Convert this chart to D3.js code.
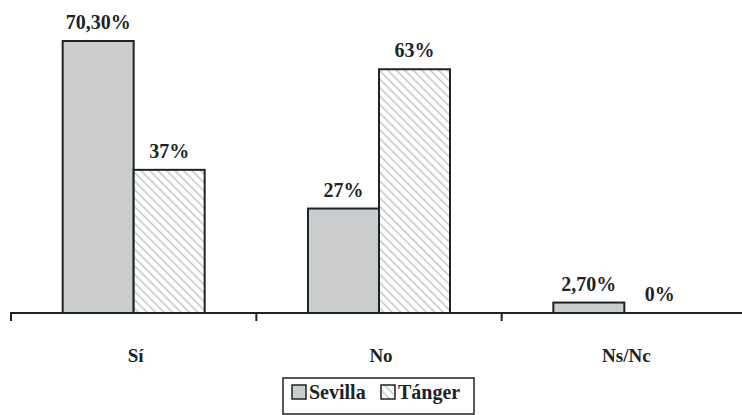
<!DOCTYPE html>
<html>
<head>
<meta charset="utf-8">
<script src="https://cdn.jsdelivr.net/npm/d3@7"></script>
<style>
body { margin: 0; background: #fff; }
svg text { font-family: "Liberation Serif"; font-weight: bold; }
</style>
</head>
<body>
<script>
const categories = ["Sí", "No", "Ns/Nc"];
const series = ["Sevilla", "Tánger"];
const sevilla = [70.3, 27, 2.7];
const tanger = [37, 63, 0];
const sevillaLabels = ["70,30%", "27%", "2,70%"];
const tangerLabels = ["37%", "63%", "0%"];

const W = 742, H = 415;
const ink = "#1b2426";

const svg = d3.select("body").append("svg")
    .attr("width", W)
    .attr("height", H);

const defs = svg.append("defs");
const pat = defs.append("pattern")
    .attr("id", "hatch")
    .attr("patternUnits", "userSpaceOnUse")
    .attr("width", 6)
    .attr("height", 6)
    .attr("patternTransform", "rotate(-45)");
pat.append("rect").attr("width", 6).attr("height", 6).attr("fill", "#fff");
pat.append("line")
    .attr("x1", 0).attr("y1", 0).attr("x2", 0).attr("y2", 6)
    .attr("stroke", "#c4c6c7").attr("stroke-width", 3);

const x0 = d3.scaleBand().domain(categories).range([11, 747]);
const x1 = d3.scaleBand().domain(series).range([0, 142]);
const y = d3.scaleLinear().domain([0, 70.3]).range([313, 41]);

const rows = categories.map((c, i) => ({
    cat: c,
    vals: [
        { s: "Sevilla", v: sevilla[i], label: sevillaLabels[i] },
        { s: "Tánger", v: tanger[i], label: tangerLabels[i] }
    ]
}));

const groups = svg.selectAll("g.grp")
    .data(rows)
    .enter().append("g")
    .attr("class", "grp")
    .attr("transform", d => `translate(${x0(d.cat) + (x0.bandwidth() - 142) / 2},0)`);

groups.selectAll("rect")
    .data(d => d.vals.filter(v => v.v > 0))
    .enter().append("rect")
    .attr("x", d => x1(d.s))
    .attr("y", d => y(d.v))
    .attr("width", x1.bandwidth())
    .attr("height", d => y(0) - y(d.v))
    .attr("fill", d => d.s == "Sevilla" ? "#cbcccd" : "url(#hatch)")
    .attr("stroke", ink)
    .attr("stroke-width", 2);

groups.selectAll("text")
    .data(d => d.vals)
    .enter().append("text")
    .attr("x", d => x1(d.s) + x1.bandwidth() / 2)
    .attr("y", d => y(d.v) - 12)
    .attr("text-anchor", "middle")
    .attr("font-size", 20)
    .attr("fill", ink)
    .text(d => d.label);

// axis
const axis = svg.append("g").attr("transform", "translate(0,313)");
axis.append("line")
    .attr("x1", 10).attr("x2", W)
    .attr("stroke", ink).attr("stroke-width", 2);
axis.selectAll("line.tick")
    .data(categories)
    .enter().append("line")
    .attr("class", "tick")
    .attr("x1", d => x0(d)).attr("x2", d => x0(d))
    .attr("y1", 0).attr("y2", 8)
    .attr("stroke", ink).attr("stroke-width", 2);
axis.selectAll("text")
    .data(categories)
    .enter().append("text")
    .attr("x", d => x0(d) + x0.bandwidth() / 2 + 2)
    .attr("y", 49)
    .attr("text-anchor", "middle")
    .attr("font-size", 19)
    .attr("fill", ink)
    .text(d => d);

// legend
const leg = svg.append("g").attr("transform", "translate(283,378)");
leg.append("rect")
    .attr("width", 191).attr("height", 36)
    .attr("fill", "#fff").attr("stroke", ink).attr("stroke-width", 1.5);
const items = [{ s: "Sevilla", x: 9, fill: "#cbcccd" }, { s: "Tánger", x: 98, fill: "url(#hatch)" }];
items.forEach(it => {
    leg.append("rect")
        .attr("x", it.x).attr("y", 7)
        .attr("width", 14).attr("height", 14)
        .attr("fill", it.fill).attr("stroke", ink).attr("stroke-width", 1.5);
    leg.append("text")
        .attr("x", it.x + 17).attr("y", 21)
        .attr("font-size", 20)
        .attr("fill", ink)
        .text(it.s);
});
</script>
</body>
</html>
